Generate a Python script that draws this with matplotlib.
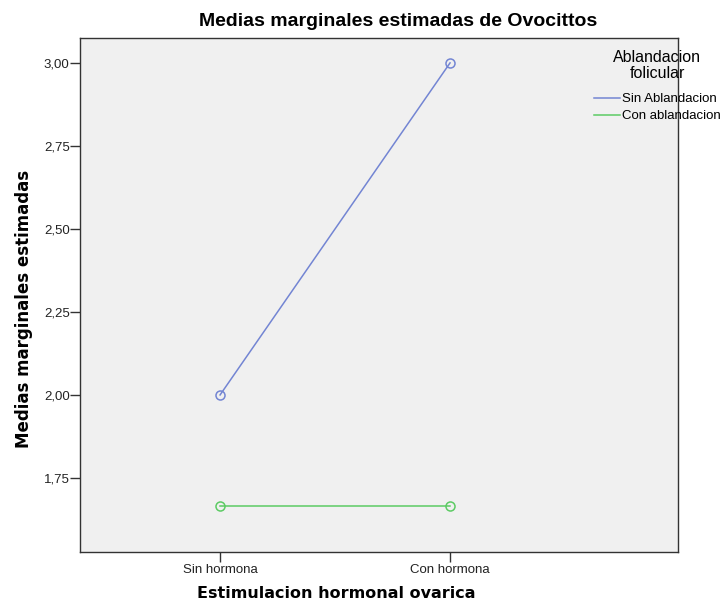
import numpy as np
import matplotlib.pyplot as plt
from matplotlib.lines import Line2D

# datos
categorias = ["Sin hormona", "Con hormona"]
sin_ablandacion = [2.0, 3.0]
con_ablandacion = [1.6667, 1.6667]
series_nombres = ["Sin Ablandacion", "Con ablandacion"]
y_ticks = [1.75, 2.00, 2.25, 2.50, 2.75, 3.00]

azul = "#7385d3"
verde = "#5ccb64"
arial = "Liberation Sans"

fig = plt.figure(figsize=(7.22, 6.10), dpi=100)
ax = fig.add_axes([0.1108, 0.0951, 0.8282, 0.8426])
ax.set_facecolor("#f0f0f0")

x = np.arange(len(categorias))
ax.plot(x, sin_ablandacion, color=azul, lw=1.1, marker="o", ms=6.5,
        mfc="none", mec=azul, mew=1.1)
ax.plot(x, con_ablandacion, color=verde, lw=1.1, marker="o", ms=6.5,
        mfc="none", mec=verde, mew=1.1)

ax.set_xlim(-0.609, 1.991)
ax.set_ylim(1.527, 3.075)
ax.set_xticks(x)
ax.set_xticklabels(categorias, fontsize=9.5, family=arial, color="#222222")
ax.set_yticks(y_ticks)
ax.set_yticklabels([f"{v:.2f}".replace(".", ",") for v in y_ticks],
                   fontsize=9.5, family=arial, color="#222222")
ax.tick_params(axis="y", length=7, width=1, color="#333333", pad=0.5)
ax.tick_params(axis="x", length=7, width=1, color="#333333", pad=2)
for s in ax.spines.values():
    s.set_color("#333333")
    s.set_linewidth(1)

# titulo y etiquetas
ax.set_title("Medias marginales estimadas de Ovocittos", fontsize=14,
             fontweight="bold", family=arial, x=0.532, y=1.032, va="center",
             pad=0)
ax.set_xlabel("Estimulacion hormonal ovarica", fontsize=11.5, fontweight="bold")
ax.xaxis.set_label_coords(0.428, -0.080)
ax.xaxis.label.set_verticalalignment("center")
ax.set_ylabel("Medias marginales estimadas", fontsize=12, fontweight="bold")
ax.yaxis.set_label_coords(-0.0936, 0.473)
ax.yaxis.label.set_verticalalignment("center")

# leyenda
fig.text(657 / 722, 1 - 65.5 / 610, "Ablandacion\nfolicular", ha="center",
         va="center", fontsize=11.5, family=arial, linespacing=1.0)
handles = [Line2D([], [], color=azul, lw=1.1), Line2D([], [], color=verde, lw=1.1)]
fig.legend(handles, series_nombres, loc="upper left",
           bbox_to_anchor=(594 / 722, 1 - 93 / 610), frameon=False,
           prop={"family": arial, "size": 9.5}, handlelength=1.97,
           handletextpad=0.15, labelspacing=0.36, borderpad=0,
           borderaxespad=0)

fig.savefig("out.png", dpi=100)
